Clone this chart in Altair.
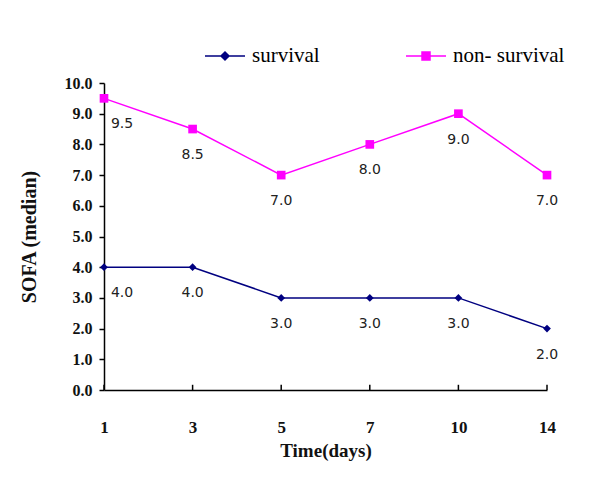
import altair as alt
import pandas as pd

days = ["1", "3", "5", "7", "10", "14"]
survival = [4.0, 4.0, 3.0, 3.0, 3.0, 2.0]
non_survival = [9.5, 8.5, 7.0, 8.0, 9.0, 7.0]
series_names = ["survival", "non- survival"]
series_colors = ["#000080", "#FF00FF"]
y_ticks = [0, 1, 2, 3, 4, 5, 6, 7, 8, 9, 10]

rows = []
for name, vals in zip(series_names, [survival, non_survival]):
    for d, v in zip(days, vals):
        rows.append({"day": d, "value": v, "series": name, "label": f"{v:.1f}"})
df = pd.DataFrame(rows)
tick_df = pd.DataFrame({"day": days})

W, H = 443, 307

x_scale = alt.Scale(type="point", padding=0, domain=days)
x_enc = alt.X(
    "day:O", sort=days, scale=x_scale,
    axis=alt.Axis(title="Time(days)", labelAngle=0, tickSize=0, labelPadding=29,
                  labelFontSize=17, titleFontSize=19, titlePadding=6),
)
y_enc = alt.Y(
    "value:Q", scale=alt.Scale(domain=[0, 10], nice=False),
    axis=alt.Axis(title="SOFA (median)", values=y_ticks, format=".1f", tickSize=5,
                  labelPadding=7, labelFontSize=16, titleFontSize=20, titlePadding=25,
                  labelOverlap=False),
)

base = alt.Chart(df)
layers = []
shapes = ["diamond", "square"]
sizes = [60, 75]
for name, col, shp, sz in zip(series_names, series_colors, shapes, sizes):
    sub = base.transform_filter(alt.datum.series == name)
    layers.append(sub.mark_line(color=col, strokeWidth=1.5).encode(x=x_enc, y=y_enc))
    layers.append(sub.mark_point(shape=shp, filled=True, color=col, size=sz, opacity=1).encode(x=x_enc, y=y_enc))

text_props = dict(font="DejaVu Sans", fontSize=14, color="#222", dy=26, baseline="middle", align="center")
layers.append(base.transform_filter(alt.datum.day != "1").mark_text(**text_props).encode(x=x_enc, y=y_enc, text="label:N"))
layers.append(base.transform_filter(alt.datum.day == "1").mark_text(dx=18, **text_props).encode(x=x_enc, y=y_enc, text="label:N"))

# inward x ticks
layers.append(alt.Chart(tick_df).transform_calculate(value="0", value2="0.17").mark_rule(
    color="black", strokeWidth=1.5).encode(x=x_enc, y=y_enc, y2="value2:Q"))

# legend layer (marks pushed out of the plot and clipped)
diamond_path = "M-1,0H1M0,-0.2L0.2,0L0,0.2L-0.2,0Z"
square_path = "M-1,0H1M-0.2,-0.2H0.2V0.2H-0.2Z"
leg = alt.Legend(title=None, orient="none", legendX=100, legendY=-48, direction="horizontal",
                 symbolSize=1600, symbolStrokeWidth=1.5, symbolOpacity=1, labelFont="Liberation Serif",
                 labelFontSize=21, labelFontWeight="normal", labelColor="black",
                 columnPadding=83, labelOffset=6)
color_scale = alt.Scale(domain=series_names, range=series_colors)
layers.append(base.transform_calculate(value="-5").mark_point(filled=True, clip=True, strokeWidth=1.5, opacity=1).encode(
    x=x_enc, y=y_enc,
    color=alt.Color("series:N", scale=color_scale, legend=leg, sort=series_names),
    stroke=alt.Stroke("series:N", scale=color_scale, legend=leg, sort=series_names),
    shape=alt.Shape("series:N", scale=alt.Scale(domain=series_names, range=[diamond_path, square_path]), legend=leg, sort=series_names),
))

chart = alt.layer(*layers).properties(
    width=W, height=H,
    autosize=alt.AutoSizeParams(type="none"),
    padding={"left": 96, "top": 75, "right": 45, "bottom": 90},
    background="white",
).configure_view(stroke=None).configure_axis(
    domain=True, domainColor="black", domainWidth=1.5, tickColor="black", tickWidth=1.5,
    grid=False, labelFont="Liberation Serif", labelFontWeight="bold", labelColor="#111",
    titleFont="Liberation Serif", titleFontWeight="bold", titleColor="#111",
)

chart.save("out.html", embed_options={"renderer": "svg", "actions": False})
